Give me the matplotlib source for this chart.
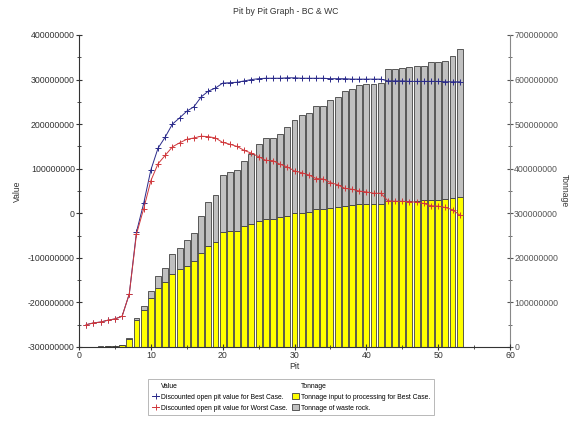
import matplotlib
matplotlib.use("Agg")
import matplotlib.pyplot as plt
from matplotlib.ticker import FuncFormatter, MultipleLocator
from matplotlib.lines import Line2D
from matplotlib.patches import Patch

plt.rcParams['font.family'] = ['Liberation Sans', 'DejaVu Sans']

pits = list(range(1, 54))

# tonnage, millions
ore_mt = [0, 0, 1, 1.5, 2, 4, 19, 61, 82, 111, 133, 146, 164, 174, 182, 194, 212, 227, 235, 257,
          260, 260, 271, 277, 282, 288, 288, 291, 293, 300, 301, 304, 310, 310, 312, 313, 317,
          319, 321, 321, 321, 321, 328, 328, 328, 328, 328, 329, 330, 330, 332, 334, 336]
total_mt = [0, 0, 1.5, 2, 2.5, 5, 21, 65, 93, 126, 159, 178, 208, 221, 240, 255, 293, 326, 342,
            385, 392, 397, 418, 434, 455, 468, 469, 479, 493, 509, 521, 524, 541, 541, 555, 561,
            575, 579, 587, 590, 590, 593, 624, 624, 626, 628, 631, 631, 640, 640, 642, 653, 668]

# discounted open pit value, millions
best_case = [-250, -246, -244, -240, -237, -231, -181, -42, 22, 97, 146, 171, 200, 214, 229, 239,
             261, 274, 281, 292, 293, 294, 297, 300, 302, 303, 303, 303, 304, 304, 303, 303, 303,
             303, 302, 302, 302, 301, 301, 301, 301, 301, 297, 297, 297, 296, 296, 296, 296, 296,
             295, 295, 295]
worst_case = [-250, -246, -244, -240, -237, -231, -181, -47, 10, 73, 111, 130, 149, 158, 166, 169,
              173, 172, 169, 159, 155, 150, 141, 135, 127, 119, 118, 110, 104, 95, 91, 86, 78, 77,
              69, 64, 56, 54, 50, 48, 45, 45, 28, 27, 27, 26, 25, 22, 17, 16, 13, 8, -4]

M = 1e6
ore = [v * M for v in ore_mt]
waste = [(t - o) * M for t, o in zip(total_mt, ore_mt)]

BLUE = '#2a2a8a'
RED = '#d0383c'

fig = plt.figure(figsize=(5.72, 4.22), dpi=100)
ax = fig.add_axes([79 / 572, 75 / 422, 431 / 572, 312 / 422])
ax2 = ax.twinx()

ax2.bar(pits, ore, width=0.82, color='#ffff00', edgecolor='#404040', linewidth=0.6)
ax2.bar(pits, waste, bottom=ore, width=0.82, color='#c0c0c0', edgecolor='#404040', linewidth=0.6)

ax.plot(pits, [v * M for v in best_case], color=BLUE, lw=0.7, marker='+', ms=4, mew=0.7)
ax.plot(pits, [v * M for v in worst_case], color=RED, lw=0.7, marker='+', ms=4, mew=0.7)

ax.set_zorder(ax2.get_zorder() + 1)
ax.patch.set_visible(False)

ax.set_xlim(0, 60)
ax.set_ylim(-300 * M, 400 * M)
ax2.set_ylim(0, 700 * M)

fmt = FuncFormatter(lambda v, p: f"{int(round(v))}")
for a in (ax, ax2):
    a.yaxis.set_major_locator(MultipleLocator(100 * M))
    a.yaxis.set_minor_locator(MultipleLocator(50 * M))
    a.yaxis.set_major_formatter(fmt)
    a.spines['top'].set_visible(False)
ax.xaxis.set_major_locator(MultipleLocator(10))
ax.xaxis.set_minor_locator(MultipleLocator(5))

ax.spines['right'].set_visible(False)
ax2.spines['left'].set_visible(False)
ax2.spines['bottom'].set_visible(False)
ax2.spines['right'].set_color('#888888')
ax.spines['left'].set_color('#333333')
ax.spines['bottom'].set_color('#333333')

ax.tick_params(which='both', direction='inout', labelsize=6.3, colors='#333333', pad=1)
ax.tick_params(which='major', length=4)
ax.tick_params(which='minor', length=3)
ax2.tick_params(which='both', direction='inout', labelsize=6.3, colors='#555555', pad=1)
ax2.tick_params(which='major', length=4)
ax2.tick_params(which='minor', length=3)

ax.set_xlabel("Pit", fontsize=6.2, color='#333333', labelpad=1)
ax.set_ylabel("Value", fontsize=6.2, color='#333333', labelpad=4)
ax2.set_ylabel("Tonnage", fontsize=6.2, color='#333333', rotation=270, labelpad=8)
fig.text(0.5, 0.972, "Pit by Pit Graph - BC & WC", ha='center', va='center', fontsize=6.2, color='#333333')

blank = Line2D([], [], linestyle='none')
handles = [blank,
           Line2D([], [], color=BLUE, lw=0.7, marker='+', ms=5, mew=0.7),
           Line2D([], [], color=RED, lw=0.7, marker='+', ms=5, mew=0.7),
           blank,
           Patch(facecolor='#ffff00', edgecolor='#404040', linewidth=0.6),
           Patch(facecolor='#c0c0c0', edgecolor='#404040', linewidth=0.6)]
labels = ["Value",
          "Discounted open pit value for Best Case.",
          "Discounted open pit value for Worst Case.",
          "Tonnage",
          "Tonnage input to processing for Best Case.",
          "Tonnage of waste rock."]
leg = fig.legend(handles, labels, ncol=2, loc='center', bbox_to_anchor=(291 / 572, 25 / 422),
                 fontsize=4.9, frameon=True, fancybox=False, edgecolor='#999999',
                 handlelength=1.0, handletextpad=0.3, columnspacing=0.6, labelspacing=0.55,
                 borderpad=0.55, handleheight=0.9)
leg.get_frame().set_linewidth(0.6)

fig.savefig("out.png", dpi=100)
